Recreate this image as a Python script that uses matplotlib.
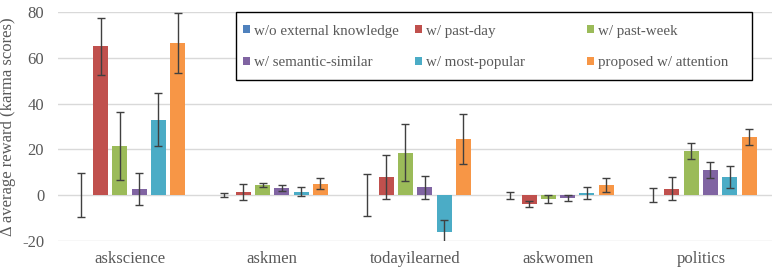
import numpy as np
import matplotlib.pyplot as plt
from matplotlib.patches import Rectangle

categories = ["askscience", "askmen", "todayilearned", "askwomen", "politics"]
series = [
    "w/o external knowledge",
    "w/ past-day",
    "w/ past-week",
    "w/ semantic-similar",
    "w/ most-popular",
    "proposed w/ attention",
]
colors = ["#4F81BD", "#C0504D", "#9BBB59", "#8064A2", "#4BACC6", "#F79646"]

# mean delta reward per series (rows) and category (columns)
values = [
    [0.0, 0.0, 0.0, 0.0, 0.0],
    [65.0, 1.5, 8.0, -4.0, 2.8],
    [21.5, 4.5, 18.5, -1.5, 19.2],
    [2.5, 3.0, 3.5, -1.2, 10.9],
    [33.0, 1.5, -16.0, 0.9, 7.9],
    [66.5, 5.0, 24.5, 4.4, 25.5],
]
errors = [
    [9.5, 0.8, 9.3, 1.5, 3.0],
    [12.5, 3.5, 9.5, 1.3, 5.0],
    [15.0, 0.8, 12.5, 1.7, 3.6],
    [7.0, 1.3, 5.0, 1.5, 3.4],
    [11.5, 2.0, 5.0, 2.5, 4.7],
    [13.0, 2.5, 11.0, 3.0, 3.5],
]

plt.rcParams["font.family"] = ["Liberation Serif", "DejaVu Serif"]
plt.rcParams["axes.unicode_minus"] = False
text_color = "#595959"

fig = plt.figure(figsize=(7.84, 2.72), dpi=100)
ax = fig.add_axes([0.074, 0.114, 0.911, 0.842])

x = np.arange(len(categories))
pitch = 0.135
handles = []
for i, (name, vals, errs, c) in enumerate(zip(series, values, errors, colors)):
    pos = x + (i - 2.5) * pitch
    h = ax.bar(pos, vals, width=0.105, color=c, label=name, zorder=2)
    handles.append(h)
    ax.errorbar(pos, vals, yerr=errs, fmt="none", ecolor="#404040",
                elinewidth=1.0, capsize=2.6, capthick=1.0, zorder=3)

ax.set_xlim(-0.5, len(categories) - 0.5)
ax.set_ylim(-20, 80)
ax.set_yticks([-20, 0, 20, 40, 60, 80])
ax.set_xticks(x)
ax.set_xticklabels(categories)
ax.yaxis.grid(True, color="#D9D9D9", linewidth=1.0, zorder=0)
ax.set_axisbelow(True)
for s in ax.spines.values():
    s.set_visible(False)
ax.tick_params(length=0, labelsize=12, labelcolor=text_color)
ax.tick_params(axis="y", pad=10)
ax.tick_params(axis="x", pad=7)
ax.set_ylabel("\u0394 average reward (karma scores)", fontsize=12,
              color=text_color, labelpad=4)

# legend box: white frame, entries laid out row by row in three columns
ax.add_patch(Rectangle((0.249, 0.703), 0.723, 0.297, transform=ax.transAxes,
                       facecolor="white", edgecolor="black", linewidth=1.0,
                       zorder=5, clip_on=False))
col_x = [0.259, 0.500, 0.741]
for col in range(3):
    idx = [col, col + 3]
    leg = ax.legend([handles[k] for k in idx], [series[k] for k in idx],
                    loc="center left", bbox_to_anchor=(col_x[col], 0.847),
                    fontsize=10.8, frameon=False, borderpad=0, borderaxespad=0,
                    handlelength=0.45, handleheight=0.45, handletextpad=0.25,
                    labelspacing=1.25)
    leg.set_zorder(6)
    leg.set_clip_on(False)
    for t in leg.get_texts():
        t.set_color(text_color)
    if col < 2:
        ax.add_artist(leg)

fig.savefig("out.png", dpi=100)
